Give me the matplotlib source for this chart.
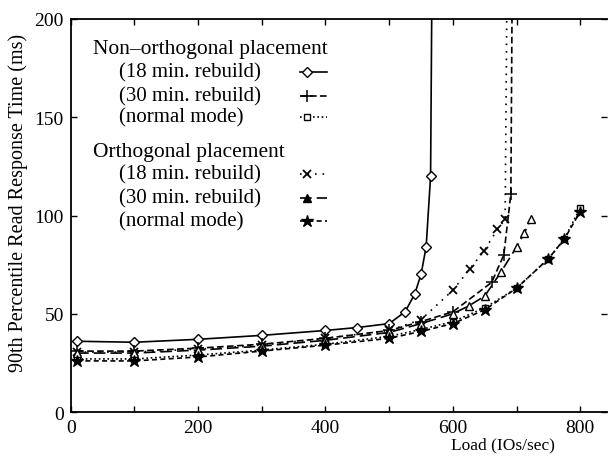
import matplotlib.pyplot as plt

plt.rcParams['font.family'] = ['Liberation Serif', 'DejaVu Serif']

# Non-orthogonal placement
nonOrth18Load = [10, 100, 200, 300, 400, 450, 500, 525, 540, 550, 558, 565, 568]
nonOrth18Resp = [36, 35.5, 37, 39, 41.5, 43, 45, 51, 60, 70, 84, 120, 260]
nonOrth30Load = [10, 100, 200, 300, 400, 500, 550, 600, 661, 680, 691, 694]
nonOrth30Resp = [31, 31, 32.5, 34.5, 37.5, 41.5, 46, 51, 66, 80, 111, 260]
nonOrthNormLoad = [10, 100, 200, 300, 400, 500, 550, 600, 650, 700, 750, 775, 800]
nonOrthNormResp = [27, 27, 29, 31.5, 34.5, 38.5, 42, 46, 53, 63, 78, 88, 104]

# Orthogonal placement
orth18Load = [10, 100, 200, 300, 400, 500, 550, 600, 627, 649, 670, 682, 686]
orth18Resp = [30.5, 30.5, 32, 34, 37.5, 41.5, 47, 62, 73, 82, 93, 98, 260]
orth30Load = [10, 100, 200, 300, 400, 500, 550, 600, 625, 650, 675, 700, 712, 722]
orth30Resp = [30, 30, 31.5, 33.5, 36.5, 40.5, 45, 50, 54, 59, 71, 84, 91, 98]
orthNormLoad = [10, 100, 200, 300, 400, 500, 550, 600, 650, 700, 750, 775, 800]
orthNormResp = [26, 26, 28, 31, 34, 37.5, 41, 45, 52, 63, 78, 88, 102]

entryLabels = ['(18 min. rebuild)', '(30 min. rebuild)', '(normal mode)']
groupTitles = ['Non\u2013orthogonal placement', 'Orthogonal placement']

seriesList = [
    (nonOrth18Load, nonOrth18Resp, dict(linestyle='-', marker='D', markersize=5, markerfacecolor='white')),
    (nonOrth30Load, nonOrth30Resp, dict(linestyle=(0, (4, 2)), marker='+', markersize=9, markeredgewidth=1.1)),
    (nonOrthNormLoad, nonOrthNormResp, dict(linestyle=(0, (1, 1.6)), marker='s', markersize=5, markerfacecolor='white')),
    (orth18Load, orth18Resp, dict(linestyle=(0, (1, 3.5)), marker='x', markersize=6, markeredgewidth=1.3)),
    (orth30Load, orth30Resp, dict(linestyle=(0, (7, 3)), marker='^', markersize=6, markerfacecolor='white')),
    (orthNormLoad, orthNormResp, dict(linestyle=(0, (3, 2)), marker='*', markersize=9)),
]

fig = plt.figure(figsize=(6.08, 4.64), dpi=100)
ax = fig.add_axes([0.1163, 0.1099, 0.8821, 0.847])

for load, resp, style in seriesList:
    ax.plot(load, resp, color='black', linewidth=1.2, markeredgecolor='black', **style)

ax.set_xlim(0, 842)
ax.set_ylim(0, 200)
ax.set_xticks(range(0, 801, 100))
ax.set_xticklabels([str(v) if v % 200 == 0 else '' for v in range(0, 801, 100)])
ax.set_yticks(range(0, 201, 50))
ax.tick_params(direction='in', length=4, width=1, labelsize=14, pad=5,
               top=True, right=True)
ax.spines['right'].set_visible(False)
for side in ['left', 'bottom', 'top']:
    ax.spines[side].set_linewidth(1.3)

ax.set_xlabel('Load (IOs/sec)', fontsize=12.5)
ax.xaxis.set_label_coords(0.806, -0.063)
ax.set_ylabel('90th Percentile Read Response Time (ms)', fontsize=14.5)
ax.yaxis.set_label_coords(-0.080, 0.535)

# hand-built key in the upper left
titleRows = [0.924, 0.662]
entryRows = [[0.865, 0.804, 0.751], [0.606, 0.545, 0.486]]
for groupIndex in range(2):
    ax.text(0.042, titleRows[groupIndex], groupTitles[groupIndex], transform=ax.transAxes,
            fontsize=15.5, va='center', ha='left')
    for entryIndex in range(3):
        rowY = entryRows[groupIndex][entryIndex]
        ax.text(0.090, rowY, entryLabels[entryIndex], transform=ax.transAxes,
                fontsize=15, va='center', ha='left')
        style = dict(seriesList[groupIndex * 3 + entryIndex][2])
        marker = style.pop('marker')
        markerSize = style.pop('markersize')
        edgeWidth = style.pop('markeredgewidth', 1.0)
        faceColor = style.pop('markerfacecolor', 'black')
        if marker == '^':
            faceColor = 'black'
        ax.plot([0.427, 0.478], [rowY, rowY], transform=ax.transAxes, color='black',
                linewidth=1.2, clip_on=False, **style)
        ax.plot([0.441], [rowY], transform=ax.transAxes, color='black', marker=marker,
                markersize=markerSize, markeredgewidth=edgeWidth, markerfacecolor=faceColor,
                markeredgecolor='black', linestyle='none', clip_on=False)

fig.savefig('out.png', dpi=100)
